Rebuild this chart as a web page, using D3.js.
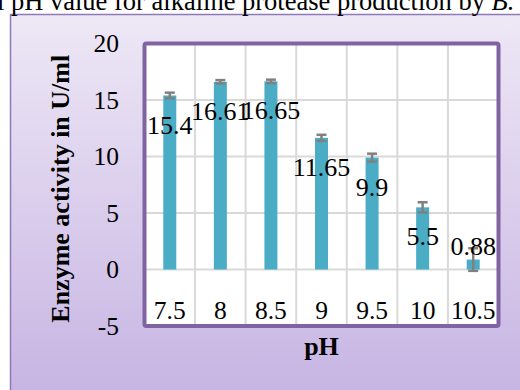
<!DOCTYPE html>
<html lang="en">
<head>
<meta charset="UTF-8">
<title>pH enzyme activity</title>
<script src="https://cdn.jsdelivr.net/npm/d3@7"></script>
<style>
  body { margin: 0; background: #fff; }
  text { font-family: "Liberation Serif", "Times New Roman", serif; }
</style>
</head>
<body>
<svg width="520" height="390" id="mainsvg"></svg>
<script>
// data
const phLabels = ['7.5', '8', '8.5', '9', '9.5', '10', '10.5'];
const activity = [15.4, 16.61, 16.65, 11.65, 9.9, 5.5, 0.88];
const errors = [0.25, 0.15, 0.15, 0.27, 0.35, 0.45, 1.0];
const yTicks = [-5, 0, 5, 10, 15, 20];

const svg = d3.select('#mainsvg');
const data = phLabels.map((p, i) => ({ph: p, value: activity[i], err: errors[i]}));

// outer chart area with lavender gradient
const defs = svg.append('defs');
const grad = defs.append('linearGradient').attr('id', 'bg')
  .attr('x1', 0).attr('y1', 0).attr('x2', 0).attr('y2', 1);
grad.append('stop').attr('offset', '0%').attr('stop-color', '#eee8f6');
grad.append('stop').attr('offset', '100%').attr('stop-color', '#c6b3e2');

svg.append('rect')
  .attr('x', 10.5).attr('y', 14.5).attr('width', 520).attr('height', 390)
  .attr('fill', 'url(#bg)').attr('stroke', '#8e79b8').attr('stroke-width', 1.5);

// caption cut off at the top
const cap = svg.append('text').attr('x', -3).attr('y', 10).attr('font-size', 26.5).attr('fill', '#000');
cap.append('tspan').text('l pH value for alkaline protease production by ');
cap.append('tspan').attr('font-style', 'italic').text('B.');

const x = d3.scaleBand().domain(phLabels).range([144.5, 498.5]);
const y = d3.scaleLinear().domain([-5, 20]).range([326, 43.5]);

const pLeft = x.range()[0], pRight = x.range()[1];
const pTop = y(20), pBottom = y(-5);

// plot area
svg.append('rect')
  .attr('x', pLeft).attr('y', pTop).attr('width', pRight - pLeft).attr('height', pBottom - pTop)
  .attr('fill', '#fff');

const grid = svg.append('g');
grid.selectAll('.hg').data(yTicks.slice(1, -1)).enter().append('line')
  .attr('x1', pLeft).attr('x2', pRight)
  .attr('y1', d => y(d)).attr('y2', d => y(d))
  .attr('stroke', '#d9d9d9').attr('stroke-width', 2);
grid.selectAll('.vg').data(phLabels.slice(1)).enter().append('line')
  .attr('x1', d => x(d)).attr('x2', d => x(d))
  .attr('y1', pTop).attr('y2', pBottom)
  .attr('stroke', '#d9d9d9').attr('stroke-width', 2);

// bars
const barW = 13;
svg.selectAll('.bar').data(data).enter().append('rect')
  .attr('class', 'bar')
  .attr('x', d => x(d.ph) + x.bandwidth() / 2 - barW / 2)
  .attr('width', barW)
  .attr('y', d => y(d.value))
  .attr('height', d => y(0) - y(d.value))
  .attr('fill', '#4bacc6');

// error bars
const eb = svg.selectAll('.eb').data(data).enter().append('g')
  .attr('transform', d => `translate(${x(d.ph) + x.bandwidth() / 2},0)`);
eb.append('line')
  .attr('y1', d => y(d.value + d.err)).attr('y2', d => y(d.value - d.err))
  .attr('stroke', '#808080').attr('stroke-width', 2.5);
eb.selectAll('.cap').data(d => [d.value + d.err, d.value - d.err]).enter().append('line')
  .attr('x1', -5).attr('x2', 5)
  .attr('y1', v => y(v)).attr('y2', v => y(v))
  .attr('stroke', '#808080').attr('stroke-width', 2.5);

// value labels
svg.selectAll('.vl').data(data).enter().append('text')
  .attr('x', d => x(d.ph) + x.bandwidth() / 2)
  .attr('y', d => d.value < 2 ? y(d.value) - 14 : y(d.value) + 29)
  .attr('dy', '0.35em')
  .attr('text-anchor', 'middle')
  .attr('font-size', 26)
  .text(d => d.value);

// x tick labels
svg.selectAll('.xl').data(phLabels).enter().append('text')
  .attr('x', d => x(d) + x.bandwidth() / 2)
  .attr('y', 319)
  .attr('text-anchor', 'middle')
  .attr('font-size', 25.5)
  .text(d => d);

// plot border
svg.append('rect')
  .attr('x', pLeft).attr('y', pTop).attr('width', pRight - pLeft).attr('height', pBottom - pTop)
  .attr('fill', 'none').attr('stroke', '#8064a2').attr('stroke-width', 4).attr('rx', 2);

// y axis
const yAxis = d3.axisLeft(y).tickValues(yTicks).tickSize(0).tickPadding(0).tickFormat(d => String(d));
const yg = svg.append('g').attr('transform', 'translate(119,0)').call(yAxis);
yg.select('.domain').remove();
yg.selectAll('.tick text').attr('font-size', 25.5).attr('font-family', 'Liberation Serif').attr('fill', '#000');

// axis titles
svg.append('text')
  .attr('transform', `translate(69,${(pTop + pBottom) / 2 + 4}) rotate(-90)`)
  .attr('text-anchor', 'middle')
  .attr('font-size', 26).attr('font-weight', 'bold')
  .text('Enzyme activity in U/ml');

svg.append('text')
  .attr('x', (pLeft + pRight) / 2).attr('y', 355)
  .attr('text-anchor', 'middle')
  .attr('font-size', 26).attr('font-weight', 'bold')
  .text('pH');
</script>
</body>
</html>
